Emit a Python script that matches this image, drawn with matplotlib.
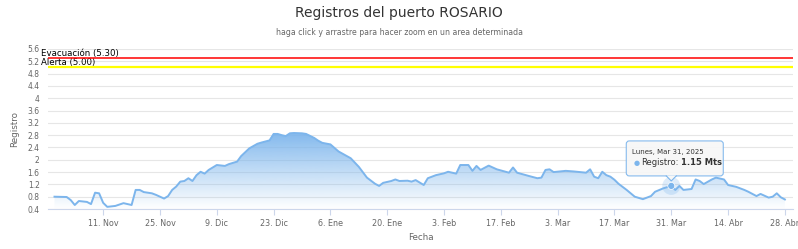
import numpy as np
import matplotlib
matplotlib.use('Agg')
import matplotlib.pyplot as plt
import matplotlib.dates as mdates
from matplotlib.patches import FancyBboxPatch, Polygon, Circle
from matplotlib.transforms import Affine2D, ScaledTranslation

# river level readings (m)
DATES = [
    '2024-10-30', '2024-11-02', '2024-11-03', '2024-11-04', '2024-11-05', '2024-11-07',
    '2024-11-08', '2024-11-09', '2024-11-10', '2024-11-11', '2024-11-12', '2024-11-14',
    '2024-11-16', '2024-11-17', '2024-11-18', '2024-11-19', '2024-11-20', '2024-11-21',
    '2024-11-23', '2024-11-24', '2024-11-26', '2024-11-27', '2024-11-28', '2024-11-29',
    '2024-11-30', '2024-12-01', '2024-12-02', '2024-12-03', '2024-12-04', '2024-12-05',
    '2024-12-06', '2024-12-07', '2024-12-09', '2024-12-11', '2024-12-12', '2024-12-14',
    '2024-12-15', '2024-12-17', '2024-12-19', '2024-12-20', '2024-12-22', '2024-12-23',
    '2024-12-24', '2024-12-25', '2024-12-26', '2024-12-27', '2024-12-28', '2024-12-30',
    '2024-12-31', '2025-01-02', '2025-01-03', '2025-01-04', '2025-01-06', '2025-01-08',
    '2025-01-11', '2025-01-13', '2025-01-15', '2025-01-17', '2025-01-18', '2025-01-19',
    '2025-01-21', '2025-01-22', '2025-01-23', '2025-01-25', '2025-01-26', '2025-01-27',
    '2025-01-29', '2025-01-30', '2025-02-01', '2025-02-03', '2025-02-04', '2025-02-06',
    '2025-02-07', '2025-02-09', '2025-02-10', '2025-02-11', '2025-02-12', '2025-02-14',
    '2025-02-16', '2025-02-19', '2025-02-20', '2025-02-21', '2025-02-24', '2025-02-26',
    '2025-02-27', '2025-02-28', '2025-03-01', '2025-03-02', '2025-03-05', '2025-03-07',
    '2025-03-10', '2025-03-11', '2025-03-12', '2025-03-13', '2025-03-14', '2025-03-15',
    '2025-03-16', '2025-03-17', '2025-03-18', '2025-03-20', '2025-03-22', '2025-03-24',
    '2025-03-26', '2025-03-27', '2025-03-29', '2025-03-31', '2025-04-01', '2025-04-02',
    '2025-04-03', '2025-04-05', '2025-04-06', '2025-04-07', '2025-04-08', '2025-04-10',
    '2025-04-11', '2025-04-13', '2025-04-14', '2025-04-16', '2025-04-18', '2025-04-19',
    '2025-04-21', '2025-04-22', '2025-04-24', '2025-04-25', '2025-04-26', '2025-04-27',
    '2025-04-28',
]
VALUES = [
    0.80, 0.79, 0.69, 0.53, 0.66, 0.63,
    0.56, 0.93, 0.91, 0.60, 0.47, 0.50,
    0.59, 0.56, 0.53, 1.02, 1.02, 0.95,
    0.91, 0.86, 0.74, 0.82, 1.02, 1.13,
    1.29, 1.31, 1.40, 1.31, 1.50, 1.61,
    1.55, 1.67, 1.83, 1.80, 1.86, 1.94,
    2.12, 2.37, 2.52, 2.56, 2.63, 2.84,
    2.84, 2.80, 2.77, 2.86, 2.87, 2.86,
    2.84, 2.71, 2.62, 2.55, 2.50, 2.27,
    2.05, 1.77, 1.42, 1.22, 1.15, 1.25,
    1.31, 1.36, 1.31, 1.32, 1.29, 1.34,
    1.18, 1.40, 1.50, 1.56, 1.61, 1.55,
    1.83, 1.83, 1.64, 1.80, 1.67, 1.81,
    1.69, 1.58, 1.75, 1.58, 1.47, 1.40,
    1.42, 1.67, 1.69, 1.60, 1.64, 1.62,
    1.58, 1.69, 1.45, 1.40, 1.61, 1.50,
    1.45, 1.35, 1.22, 1.02, 0.80, 0.72,
    0.82, 0.96, 1.07, 1.15, 1.02, 1.15,
    1.02, 1.05, 1.36, 1.31, 1.21, 1.36,
    1.42, 1.36, 1.18, 1.12, 1.02, 0.96,
    0.82, 0.89, 0.77, 0.80, 0.91, 0.78,
    0.71,
]

TICK_DATES = ['2024-11-11', '2024-11-25', '2024-12-09', '2024-12-23', '2025-01-06',
              '2025-01-20', '2025-02-03', '2025-02-17', '2025-03-03', '2025-03-17',
              '2025-03-31', '2025-04-14', '2025-04-28']
TICK_LABELS = ['11. Nov', '25. Nov', '9. Dic', '23. Dic', '6. Ene', '20. Ene', '3. Feb',
               '17. Feb', '3. Mar', '17. Mar', '31. Mar', '14. Abr', '28. Abr']
Y_TICKS = [0.4, 0.8, 1.2, 1.6, 2.0, 2.4, 2.8, 3.2, 3.6, 4.0, 4.4, 4.8, 5.2, 5.6]
Y_TICK_LABELS = ['0.4', '0.8', '1.2', '1.6', '2', '2.4', '2.8', '3.2', '3.6', '4',
                 '4.4', '4.8', '5.2', '5.6']

EVACUACION = 5.30
ALERTA = 5.00
TIP_DATE = '2025-03-31'
TIP_VALUE = 1.15

LINE_COL = '#7cb5ec'
GRID_COL = '#e6e6e6'
AXIS_COL = '#ccd6eb'
LABEL_COL = '#666666'

plt.rcParams['font.family'] = ['DejaVu Sans']

x = mdates.datestr2num(DATES)
y = np.array(VALUES)

fig = plt.figure(figsize=(7.98, 2.49), dpi=100)
ax = fig.add_axes([48 / 798, 40 / 249, 745 / 798, 160 / 249])

xmin = mdates.datestr2num('2024-10-28') + 0.4
xmax = mdates.datestr2num('2025-04-30')

# gradient area under the line
poly = ax.fill_between(x, y, 0.4, facecolor='none', edgecolor='none')
grad = np.zeros((256, 1, 4))
grad[:, 0, :3] = matplotlib.colors.to_rgb(LINE_COL)
grad[:, 0, 3] = np.linspace(0.95, 0.0, 256)
im = ax.imshow(grad, extent=[xmin, xmax, 0.4, y.max()], aspect='auto', origin='upper',
               zorder=2)
im.set_clip_path(poly.get_paths()[0], transform=ax.transData)
ax.set_xlim(xmin, xmax)
ax.set_ylim(0.4, 5.6)

ax.plot(x, y, color=LINE_COL, lw=1.4, zorder=3)

# plot lines
ax.axhline(EVACUACION, color='#ff0000', lw=1.1, zorder=4)
ax.axhline(ALERTA, color='#ffff00', lw=1.6, zorder=4)
ax.text(-7 / 745, EVACUACION, f'Evacuación ({EVACUACION:.2f})', transform=ax.get_yaxis_transform(),
        fontsize=6.2, color='#000000', va='bottom', ha='left', clip_on=False)
ax.text(-7 / 745, ALERTA, f'Alerta ({ALERTA:.2f})', transform=ax.get_yaxis_transform(),
        fontsize=6.2, color='#000000', va='bottom', ha='left', clip_on=False)

# axes styling
ax.set_yticks(Y_TICKS)
ax.set_yticklabels(Y_TICK_LABELS)
ax.set_xticks(mdates.datestr2num(TICK_DATES))
ax.set_xticklabels(TICK_LABELS)
ax.grid(axis='y', color=GRID_COL, lw=0.8)
ax.set_axisbelow(True)
for side in ('top', 'right', 'left'):
    ax.spines[side].set_visible(False)
ax.spines['bottom'].set_color(AXIS_COL)
ax.spines['bottom'].set_linewidth(0.8)
ax.tick_params(axis='y', length=0, labelsize=5.5, labelcolor=LABEL_COL, pad=6)
ax.tick_params(axis='x', length=4, width=0.8, color=AXIS_COL, labelsize=5.8,
               labelcolor=LABEL_COL, pad=3)
ax.set_ylabel('Registro', fontsize=6.3, color=LABEL_COL, labelpad=6)
ax.set_xlabel('Fecha', fontsize=6.3, color=LABEL_COL, labelpad=4)

fig.text(0.5, 1 - 13 / 249, 'Registros del puerto ROSARIO', ha='center', va='center',
         fontsize=10, color='#333333')
fig.text(0.5, 1 - 32 / 249, 'haga click y arrastre para hacer zoom en un area determinada',
         ha='center', va='center', fontsize=5.6, color=LABEL_COL)

# hover tooltip at Mar 31
tx = mdates.datestr2num(TIP_DATE)
px = Affine2D() + ScaledTranslation(tx, TIP_VALUE, ax.transData)
ax.add_patch(Circle((0, 0), 9, transform=px, facecolor=LINE_COL, alpha=0.25,
                    edgecolor='none', zorder=5, clip_on=False))
ax.add_patch(Circle((0, 0), 3.5, transform=px, facecolor=LINE_COL, edgecolor='white',
                    lw=0.5, zorder=6, clip_on=False))
ax.add_patch(FancyBboxPatch((-45, 10), 97, 35, boxstyle='round,pad=0,rounding_size=3',
                            transform=px, facecolor='#f7f7f7', alpha=0.92,
                            edgecolor=LINE_COL, lw=0.8, zorder=7, clip_on=False))
ax.add_patch(Polygon([(-5, 10.5), (0, 5), (5, 10.5)], closed=True, transform=px,
                     facecolor='#f7f7f7', edgecolor='none', zorder=8, clip_on=False))
ax.plot([-5, 0, 5], [10, 5, 10], transform=px, color=LINE_COL, lw=0.8, zorder=8,
        clip_on=False)
ax.text(-39, 34, 'Lunes, Mar 31, 2025', transform=px, fontsize=5, color='#333333',
        va='center', ha='left', zorder=9)
ax.text(-38, 23, '●', transform=px, fontsize=5, color=LINE_COL, va='center', ha='left',
        zorder=9)
ax.text(-30, 23, 'Registro:', transform=px, fontsize=6, color='#333333', va='center',
        ha='left', zorder=9)
ax.text(10, 23, f'{TIP_VALUE:.2f} Mts', transform=px, fontsize=6, color='#333333',
        fontweight='bold', va='center', ha='left', zorder=9)

fig.savefig('out.png', dpi=100)
